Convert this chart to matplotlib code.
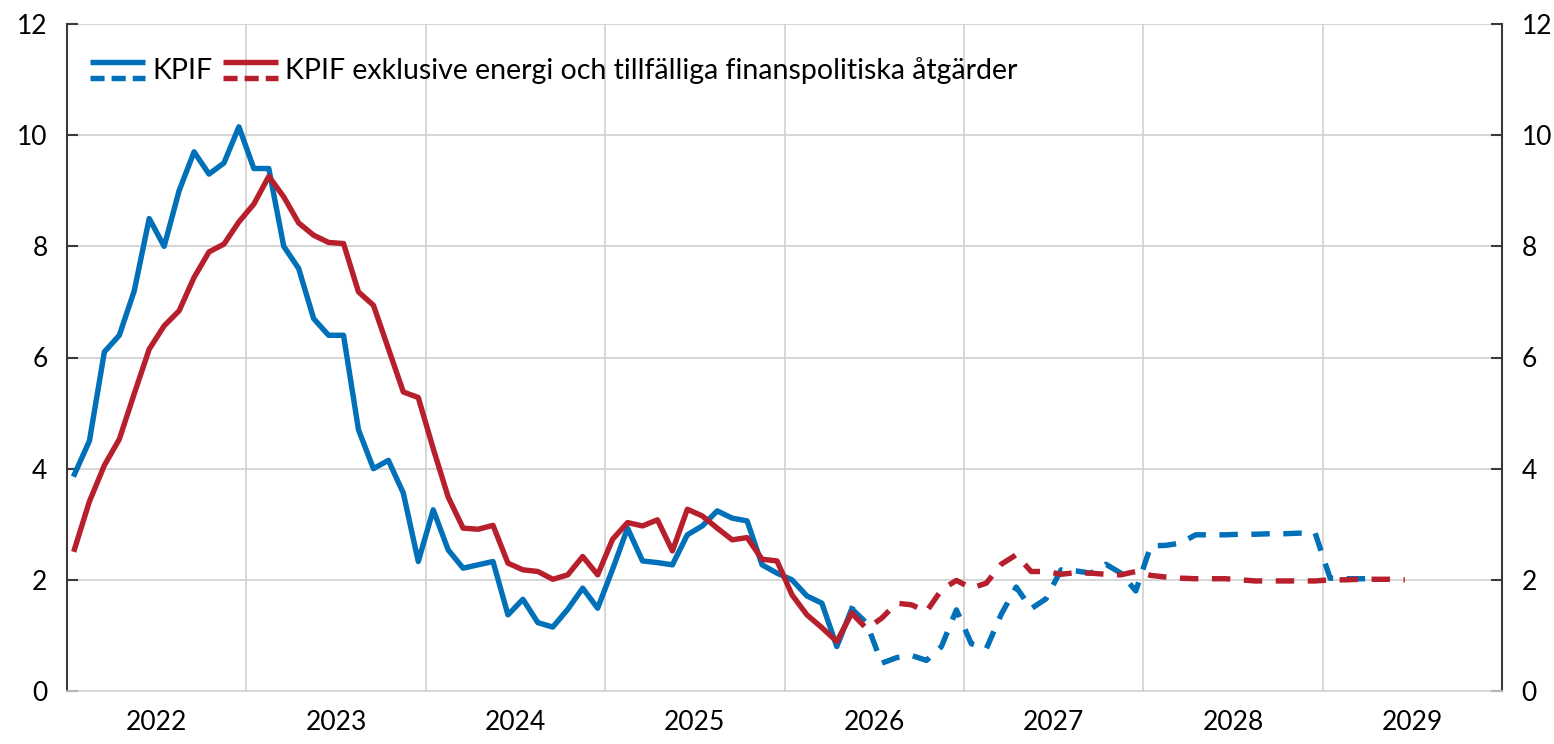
import numpy as np
import matplotlib
matplotlib.use("Agg")
import matplotlib.pyplot as plt
from matplotlib.lines import Line2D
from matplotlib.legend_handler import HandlerBase

plt.rcParams['font.family'] = ['Lato', 'DejaVu Sans']

# Manadsdata fran jan 2022, utfall t.o.m. maj 2026, sedan prognos
kpif_utfall = [3.9, 4.5, 6.1, 6.4, 7.2, 8.5, 8.0, 9.0, 9.7, 9.3, 9.5, 10.15,
               9.4, 9.4, 8.0, 7.6, 6.7, 6.4, 6.4, 4.7, 4.0, 4.15, 3.56, 2.33,
               3.26, 2.54, 2.21, 2.27, 2.33, 1.37, 1.65, 1.23, 1.15, 1.47, 1.85, 1.49,
               2.19, 2.93, 2.34, 2.31, 2.27, 2.81, 2.97, 3.24, 3.11, 3.06, 2.27, 2.12,
               2.0, 1.71, 1.58, 0.80, 1.48]
kpif_prognos = [1.22, 0.50, 0.60, 0.64, 0.55, 0.80, 1.46,
                0.85, 0.76, 1.38, 1.87, 1.48, 1.66, 2.18, 2.16, 2.12, 2.28, 2.12, 1.80,
                2.61, 2.62, 2.66, 2.81, 2.81, 2.81, 2.82, 2.82, 2.83, 2.83, 2.84, 2.84,
                2.03, 2.02, 2.02, 2.02]

kpifxe_utfall = [2.55, 3.41, 4.06, 4.53, 5.35, 6.15, 6.57, 6.84, 7.44, 7.90, 8.04, 8.44,
                 8.76, 9.26, 8.89, 8.42, 8.20, 8.07, 8.05, 7.18, 6.94, 6.16, 5.38, 5.28,
                 4.36, 3.49, 2.93, 2.91, 2.98, 2.30, 2.18, 2.15, 2.01, 2.09, 2.42, 2.09,
                 2.73, 3.03, 2.97, 3.08, 2.52, 3.27, 3.15, 2.93, 2.72, 2.76, 2.37, 2.34,
                 1.73, 1.37, 1.14, 0.89, 1.40]
kpifxe_prognos = [1.12, 1.31, 1.58, 1.55, 1.43, 1.82, 1.99,
                  1.85, 1.94, 2.28, 2.45, 2.15, 2.15, 2.10, 2.13, 2.12, 2.10, 2.09, 2.15,
                  2.08, 2.05, 2.03, 2.02, 2.02, 2.02, 2.00, 1.98, 1.98, 1.98, 1.98, 1.98,
                  2.00, 2.00, 2.01, 2.01, 2.01, 2.00]

years = ['2022', '2023', '2024', '2025', '2026', '2027', '2028', '2029']

blue = '#0070b8'
red = '#b81f2d'
lw = 3.9


class TwoLineHandler(HandlerBase):
    def __init__(self, color):
        super().__init__()
        self.color = color

    def create_artists(self, legend, orig, xd, yd, width, height, fontsize, trans):
        top = Line2D([xd, xd + width], [yd + height * 0.85] * 2, color=self.color,
                     lw=lw, solid_capstyle='butt', transform=trans)
        bot = Line2D([xd, xd + width], [yd + height * 0.02] * 2, color=self.color,
                     lw=lw, linestyle=(0, (2.6, 1.3)), dash_capstyle='butt',
                     transform=trans)
        return [top, bot]


fig = plt.figure(figsize=(15.54, 7.44), dpi=100)
ax = fig.add_axes([67 / 1554, 1 - 691 / 744, (1502 - 67) / 1554, (691 - 24) / 744])

n_ut = len(kpif_utfall)
x_ut = np.arange(n_ut) + 0.5
x_kp = np.arange(n_ut - 1, n_ut + len(kpif_prognos)) + 0.5
x_xp = np.arange(n_ut - 1, n_ut + len(kpifxe_prognos)) + 0.5

dash = (0, (3.4, 2.5))
ax.plot(x_ut, kpif_utfall, color=blue, lw=lw, zorder=3)
ax.plot(x_kp, [kpif_utfall[-1]] + kpif_prognos, color=blue, lw=lw,
        linestyle=dash, dash_capstyle='butt', zorder=3)
ax.plot(x_ut, kpifxe_utfall, color=red, lw=lw, zorder=4)
ax.plot(x_xp, [kpifxe_utfall[-1]] + kpifxe_prognos, color=red, lw=lw,
        linestyle=dash, dash_capstyle='butt', zorder=4)

ax.set_xlim(0, 96)
ax.set_ylim(0, 12)

# gridlinjer
for v in range(12, 96, 12):
    ax.axvline(v, color='#cfcfcf', lw=1.2, zorder=1)
for v in range(2, 14, 2):
    ax.axhline(v, color='#cfcfcf', lw=1.2, zorder=1)

ax.spines['top'].set_visible(False)
ax.spines['bottom'].set_color('#cfcfcf')
ax.spines['bottom'].set_linewidth(1.2)
for s in ['left', 'right']:
    ax.spines[s].set_color('#3a3a3a')
    ax.spines[s].set_linewidth(1.5)

ax.set_yticks(range(0, 13, 2))
ax.tick_params(axis='y', which='both', direction='in', length=8, width=1.5,
               color='#3a3a3a', labelsize=19, left=True, right=True,
               labelleft=True, labelright=True, pad=14)
ax.set_xticks(range(0, 97, 12))
ax.set_xticklabels([])
ax.set_xticks(np.arange(6, 96, 12), minor=True)
ax.set_xticklabels(years, minor=True)
ax.tick_params(axis='x', which='both', length=0, labelsize=19, pad=14)

h1 = Line2D([], [], color=blue)
h2 = Line2D([], [], color=red)
ax.legend([h1, h2], ['KPIF', 'KPIF exklusive energi och tillfälliga finanspolitiska åtgärder'],
          handler_map={h1: TwoLineHandler(blue), h2: TwoLineHandler(red)},
          loc='upper left', bbox_to_anchor=(0.008, 0.968), frameon=False, ncol=2,
          fontsize=20.5, handlelength=1.95, handletextpad=0.25, columnspacing=0.35,
          borderaxespad=0)

fig.savefig('out.png', dpi=100)
